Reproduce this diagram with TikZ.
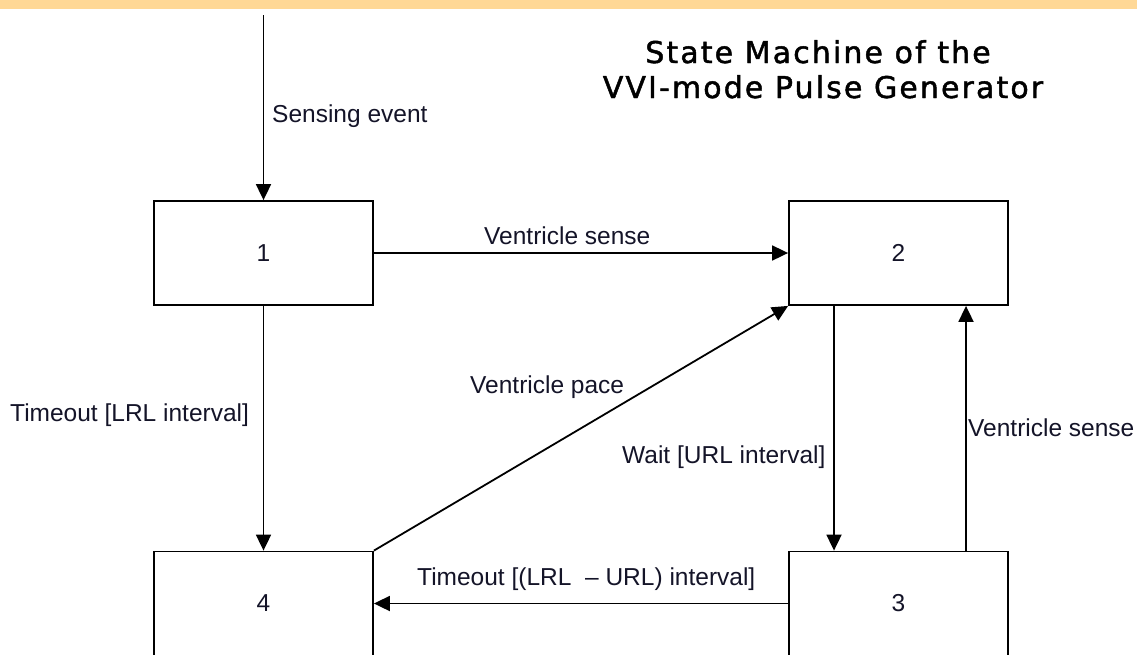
\documentclass[tikz,border=0pt]{standalone}
\usepackage{fontspec}
\setmainfont{Liberation Sans}
\newfontfamily\titlefont[LetterSpace=7,FakeBold=1.5]{DejaVu Sans}
\usetikzlibrary{arrows.meta}
\definecolor{band}{RGB}{255,216,150}
\definecolor{ink}{RGB}{20,20,40}
\begin{document}
\begin{tikzpicture}[x=1pt,y=-1pt,
  state/.style={draw, line width=1.8pt, minimum width=219pt, minimum height=104pt,
    inner sep=0pt, text=ink, font=\fontsize{24.5}{28}\selectfont},
  lbl/.style={anchor=base west, inner sep=0pt, text=ink, font=\fontsize{24.5}{28}\selectfont},
  ttl/.style={anchor=base, inner sep=0pt, font=\titlefont\fontsize{30}{34}\selectfont},
  conn/.style={line width=1.8pt, -{Triangle[length=16pt,width=15pt]}}]
\fill[band] (0,0) rectangle (1137,9);
\useasboundingbox (0,0) rectangle (1137,654);

\node[state] (s1) at (263.5,253) {1};
\node[state] (s2) at (898.5,253) {2};
\node[state] (s4) at (263.5,603.5) {4};
\node[state] (s3) at (898.5,603.5) {3};

\coordinate (start) at (263.5,15);

\draw[conn] (start) -- (s1.north);
\draw[conn] (s1.east) -- (s2.west);
\draw[conn] (s1.south) -- (s4.north);
\draw[conn] (s4.north east) -- (s2.south west);
\draw[conn] ([xshift=-64.5pt]s2.south) -- ([xshift=-64.5pt]s3.north);
\draw[conn] ([xshift=67.5pt]s3.north) -- ([xshift=67.5pt]s2.south);
\draw[conn] (s3.west) -- (s4.east);

\node[lbl] (l0) at (272,122) {Sensing event};
\node[lbl] (l1) at (484,244) {Ventricle sense};
\node[lbl] (l2) at (10,421) {Timeout [LRL interval]};
\node[lbl] (l3) at (470,393) {Ventricle pace};
\node[lbl] (l4) at (622,463) {Wait [URL interval]};
\node[lbl] (l5) at (968,436) {Ventricle sense};
\node[lbl] (l6) at (417,585) {Timeout [(LRL\ \ – URL) interval]};

\node[ttl] (title1) at (818,63) {State Machine of the};
\node[ttl] (title2) at (823,98) {VVI-mode Pulse Generator};
\end{tikzpicture}
\end{document}
